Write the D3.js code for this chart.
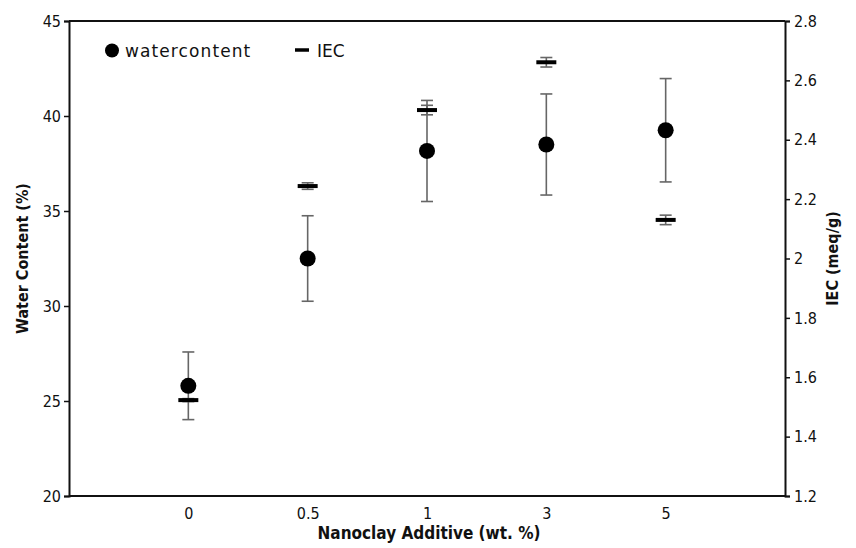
<!DOCTYPE html>
<html><head><meta charset="utf-8">
<script src="https://cdn.jsdelivr.net/npm/d3@7"></script>
<style>body{margin:0;background:#fff}svg{display:block}text{font-family:"DejaVu Sans Condensed","DejaVu Sans",sans-serif}</style>
</head><body><svg id="c" width="856" height="548"></svg>
<script>
const categories = ["0","0.5","1","3","5"];
const waterContent = [25.8, 32.5, 38.16, 38.5, 39.25];
const waterErr = [1.78, 2.25, 2.66, 2.66, 2.72];
const iec = [1.523, 2.244, 2.50, 2.661, 2.13];
const iecErr = [0.005, 0.011, 0.016, 0.016, 0.016];
const leftTicks = [20, 25, 30, 35, 40, 45];
const rightTicks = [1.2, 1.4, 1.6, 1.8, 2, 2.2, 2.4, 2.6, 2.8];
const rightTickLabels = ["1.2","1.4","1.6","1.8","2","2.2","2.4","2.6","2.8"];

const svg = d3.select("#c");
const L = 69, R = 785, T = 21, B = 496;
const x = d3.scalePoint().domain(categories).range([L, R]).padding(1);
const yL = d3.scaleLinear().domain([20, 45]).range([B, T]);
const yR = d3.scaleLinear().domain([1.2, 2.8]).range([B, T]);

// axes
const axL = svg.append("g").attr("transform", `translate(${L},0)`)
  .call(d3.axisLeft(yL).tickValues(leftTicks).tickSize(5).tickPadding(3));
const axR = svg.append("g").attr("transform", `translate(${R},0)`)
  .call(d3.axisRight(yR).tickValues(rightTicks).tickFormat((d,i)=>rightTickLabels[i]).tickSize(5).tickPadding(4));
const axB = svg.append("g").attr("transform", `translate(0,${B})`)
  .call(d3.axisBottom(x).tickSize(0).tickPadding(12));
const axT = svg.append("g").attr("transform", `translate(0,${T})`)
  .call(d3.axisTop(x).tickSize(0).tickFormat(""));
[axL, axR, axB, axT].forEach(a => {
  a.select(".domain").attr("stroke", "#111").attr("stroke-width", 2);
  a.selectAll(".tick line").attr("stroke", "#111").attr("stroke-width", 1.5);
  a.selectAll("text").attr("font-size", 16).attr("fill", "#111");
});
axB.select(".domain").attr("d", `M${L},0H${R}`);
axT.select(".domain").attr("d", `M${L},0H${R}`);

// titles
svg.append("text").attr("x", 429).attr("y", 539).attr("text-anchor", "middle")
  .attr("font-size", 17).attr("font-weight", "bold").attr("fill", "#111").text("Nanoclay Additive (wt. %)");
svg.append("text").attr("transform", `translate(28,${(T + B) / 2}) rotate(-90)`).attr("text-anchor", "middle")
  .attr("font-size", 16).attr("font-weight", "bold").attr("fill", "#111").text("Water Content (%)");
svg.append("text").attr("transform", `translate(838,${(T + B) / 2}) rotate(-90)`).attr("text-anchor", "middle")
  .attr("font-size", 16).attr("font-weight", "bold").attr("fill", "#111").text("IEC (meq/g)");

const errCol = "#666";
function errorBars(vals, errs, y, capW) {
  const g = svg.append("g").attr("stroke", errCol).attr("stroke-width", 1.6);
  categories.forEach((c, i) => {
    const cx = x(c), y0 = y(vals[i] - errs[i]), y1 = y(vals[i] + errs[i]);
    g.append("line").attr("x1", cx).attr("x2", cx).attr("y1", y0).attr("y2", y1);
    g.append("line").attr("x1", cx - capW / 2).attr("x2", cx + capW / 2).attr("y1", y0).attr("y2", y0);
    g.append("line").attr("x1", cx - capW / 2).attr("x2", cx + capW / 2).attr("y1", y1).attr("y2", y1);
  });
}
errorBars(waterContent, waterErr, yL, 12);
errorBars(iec, iecErr, yR, 12);

// IEC markers
svg.append("g").selectAll("line").data(categories).join("line")
  .attr("x1", c => x(c) - 10).attr("x2", c => x(c) + 10)
  .attr("y1", (c, i) => yR(iec[i])).attr("y2", (c, i) => yR(iec[i]))
  .attr("stroke", "#000").attr("stroke-width", 4);
// water markers
svg.append("g").selectAll("circle").data(categories).join("circle")
  .attr("cx", c => x(c)).attr("cy", (c, i) => yL(waterContent[i])).attr("r", 8).attr("fill", "#000");

// legend
svg.append("circle").attr("cx", 112).attr("cy", 50.5).attr("r", 7).attr("fill", "#000");
svg.append("text").attr("x", 125).attr("y", 57).attr("font-size", 17).style("font-family", "'DejaVu Sans'").style("letter-spacing", "1.1px").attr("fill", "#111").text("watercontent");
svg.append("line").attr("x1", 295).attr("x2", 309).attr("y1", 50).attr("y2", 50).attr("stroke", "#000").attr("stroke-width", 3.5);
svg.append("text").attr("x", 317).attr("y", 57).attr("font-size", 17).style("font-family", "'DejaVu Sans'").attr("fill", "#111").text("IEC");
</script></body></html>
